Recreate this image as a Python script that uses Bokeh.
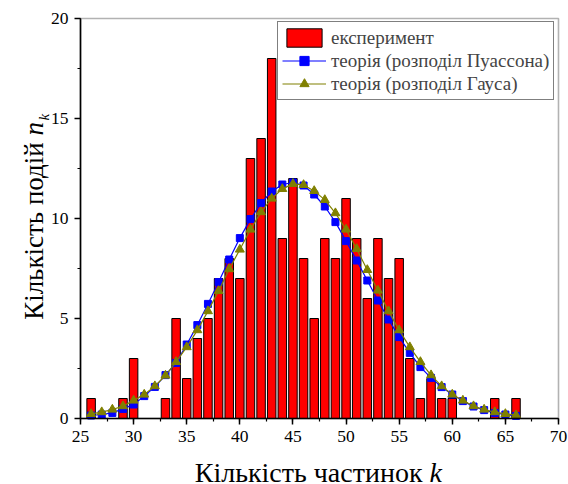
import math
from bokeh.plotting import figure
from bokeh.models import (Range1d, SingleIntervalTicker, Legend, LegendItem,
                          Label, BoxAnnotation)
from bokeh.embed import file_html
from bokeh.resources import INLINE

# data
k_exp = list(range(26, 67))
counts = [1, 0, 0, 1, 3, 0, 0, 1, 5, 2, 4, 5, 7, 8, 7, 13, 14, 18, 9, 12, 8, 5,
          9, 8, 11, 9, 6, 9, 7, 8, 3, 1, 2, 1, 1, 0, 0, 0, 1, 0, 1]

k_th = list(range(26, 67))
poisson = [0.15, 0.2, 0.28, 0.48, 0.7, 1.12, 1.58, 2.17, 2.78, 3.7, 4.67, 5.73,
           6.82, 7.95, 9.02, 9.97, 10.77, 11.35, 11.7, 11.8, 11.65, 11.2, 10.6,
           9.82, 8.87, 7.9, 6.9, 5.9, 4.95, 4.07, 3.28, 2.57, 2.03, 1.57, 1.2,
           0.87, 0.6, 0.42, 0.28, 0.2, 0.13]
gauss = [0.23, 0.32, 0.45, 0.62, 0.9, 1.2, 1.62, 2.15, 2.83, 3.57, 4.42, 5.37,
         6.38, 7.47, 8.45, 9.45, 10.32, 11.0, 11.48, 11.73, 11.68, 11.38, 10.93,
         10.27, 9.45, 8.48, 7.43, 6.4, 5.37, 4.42, 3.57, 2.83, 2.17, 1.62, 1.2,
         0.9, 0.62, 0.45, 0.32, 0.23, 0.17]

x_min, x_max = 25, 70
y_min, y_max = 0, 20

bar_label = "експеримент"
poisson_label = "теорія (розподіл Пуассона)"
gauss_label = "теорія (розподіл Гауса)"
x_title = "Кількість частинок "
y_title = "Кількість подій "

FONT = "Liberation Serif"

xs = [k for k, c in zip(k_exp, counts) if c > 0]
ys = [c for c in counts if c > 0]

# frame covers the whole canvas; axes are pinned at the data box so that the
# axis titles (drawn as labels) stay inside the frame and are not clipped
W, H = 568, 484
left_px, right_px, top_px, bottom_px = 80, 10, 18, 66
ppx = (W - left_px - right_px) / (x_max - x_min)
ppy = (H - top_px - bottom_px) / (y_max - y_min)
x_lo = x_min - left_px / ppx
x_hi = x_max + right_px / ppx
y_lo = y_min - bottom_px / ppy
y_hi = y_max + top_px / ppy

p = figure(width=W, height=H, output_backend="svg", toolbar_location=None,
           x_range=Range1d(x_lo, x_hi), y_range=Range1d(y_lo, y_hi),
           min_border=0)
p.xgrid.visible = False
p.ygrid.visible = False
p.outline_line_color = None

bars = p.vbar(x=xs, top=ys, width=0.8, fill_color="#ff0000",
              line_color="black", line_width=1)
pl = p.line(k_th, poisson, line_color="#0000ff", line_width=1.2)
ps = p.scatter(k_th, poisson, marker="square", size=7, fill_color="#0000ff",
               line_color="#0000ff")
gl = p.line(k_th, gauss, line_color="#808000", line_width=1.2)
gs = p.scatter(k_th, gauss, marker="triangle", size=9, fill_color="#808000",
               line_color="#808000")

xa, ya = p.xaxis[0], p.yaxis[0]
xa.fixed_location = y_min
xa.bounds = (x_min, x_max)
ya.fixed_location = x_min
ya.bounds = (y_min, y_max)
for ax in (xa, ya):
    ax.axis_line_width = 1.6
    ax.major_tick_line_width = 1.5
    ax.minor_tick_line_width = 1.2
    ax.major_tick_out = 6
    ax.major_tick_in = 0
    ax.minor_tick_out = 3
    ax.minor_tick_in = 0
    ax.major_label_text_font = FONT
    ax.major_label_text_font_size = "17.5px"
    ax.major_label_text_color = "black"
    ax.major_label_standoff = 6
xa.ticker = SingleIntervalTicker(interval=5, num_minor_ticks=2)
ya.ticker = SingleIntervalTicker(interval=5, num_minor_ticks=2)

# frame box
p.add_layout(BoxAnnotation(left=x_min, right=x_max, bottom=y_min, top=y_max,
                           fill_color=None, line_color="black",
                           line_width=1.6))

legend = Legend(items=[
    LegendItem(label=bar_label, renderers=[bars]),
    LegendItem(label=poisson_label, renderers=[pl, ps]),
    LegendItem(label=gauss_label, renderers=[gl, gs]),
])
legend.location = (277, H - 100)
legend.label_text_font = FONT
legend.label_text_font_size = "19px"
legend.glyph_width = 44
legend.glyph_height = 23
legend.label_height = 20
legend.label_standoff = 5
legend.spacing = 0
legend.padding = 4
legend.margin = 0
legend.border_line_color = "black"
legend.border_line_width = 1
p.add_layout(legend)

# axis titles
x_anchor = x_min + (429 - left_px) / ppx
x_base = y_min - (472 - (H - bottom_px)) / ppy
p.add_layout(Label(x=x_anchor, y=x_base, text=x_title,
                   text_align="right", text_baseline="alphabetic",
                   text_font=FONT, text_font_size="28px", text_color="black"))
p.add_layout(Label(x=x_anchor, y=x_base, text="k", text_align="left",
                   text_baseline="alphabetic", text_font=FONT,
                   text_font_style="italic", text_font_size="28px",
                   text_color="black"))
y_base = x_min - (left_px - 33) / ppx
y_anchor = y_min + ((H - bottom_px) - 135) / ppy
p.add_layout(Label(x=y_base, y=y_anchor, text=y_title, angle=math.pi / 2,
                   text_align="right", text_baseline="alphabetic",
                   text_font=FONT, text_font_size="27px", text_color="black"))
p.add_layout(Label(x=y_base, y=y_anchor, text="n", angle=math.pi / 2,
                   text_align="left", text_baseline="alphabetic",
                   text_font=FONT, text_font_style="italic",
                   text_font_size="27px", text_color="black"))
p.add_layout(Label(x=y_base, y=y_min + ((H - bottom_px) - 120) / ppy,
                   x_offset=10, text="k", angle=math.pi / 2, text_align="left",
                   text_baseline="alphabetic", text_font=FONT,
                   text_font_style="italic", text_font_size="15px",
                   text_color="black"))

open("out.html", "w").write(file_html(p, INLINE))
